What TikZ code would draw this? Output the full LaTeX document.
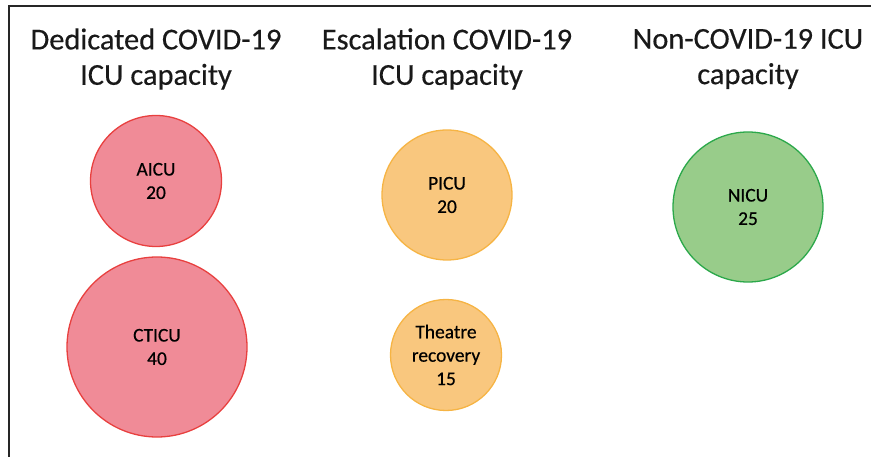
\documentclass[tikz,border=0pt]{standalone}
\usepackage{fontspec}
\setmainfont[FakeBold=0.4]{Carlito}
\definecolor{redfill}{HTML}{F08B97}
\definecolor{redline}{HTML}{E8403F}
\definecolor{orfill}{HTML}{F9C77E}
\definecolor{orline}{HTML}{F6B444}
\definecolor{grfill}{HTML}{98CC8A}
\definecolor{grline}{HTML}{2BA84A}
\begin{document}
\begin{tikzpicture}[x=1bp,y=-1bp,
  title/.style={align=center,font=\fontsize{30.5}{35.5}\selectfont,text=black!90},
  unit/.style={circle,draw,line width=1.3bp,inner sep=0pt,align=center,font=\fontsize{19.5}{23.5}\selectfont},
  redu/.style={unit,fill=redfill,draw=redline},
  oru/.style={unit,fill=orfill,draw=orline},
  gru/.style={unit,fill=grfill,draw=grline}]
\useasboundingbox (0,0) rectangle (872,457);
\coordinate (tl) at (9,6);
\coordinate (tr) at (871,6);
\coordinate (bl) at (9,457);
\draw[line width=2.5bp,black!85] (bl) -- (tl) -- (tr);
\node[title] (t1) at (156,59) {Dedicated COVID-19\\ICU capacity};
\node[title] (t2) at (447,59) {Escalation COVID-19\\ICU capacity};
\node[title] (t3) at (748,59) {Non-COVID-19 ICU\\capacity};
\node[redu,minimum size=131bp] (aicu) at (156,181) {AICU\\20};
\node[redu,minimum size=180bp] (cticu) at (157,347) {CTICU\\40};
\node[oru,minimum size=130bp] (picu) at (447,195) {PICU\\20};
\node[oru,minimum size=111bp] (theatre) at (446,355) {Theatre\\recovery\\15};
\node[gru,minimum size=150bp] (nicu) at (748,207) {NICU\\25};
\end{tikzpicture}
\end{document}
